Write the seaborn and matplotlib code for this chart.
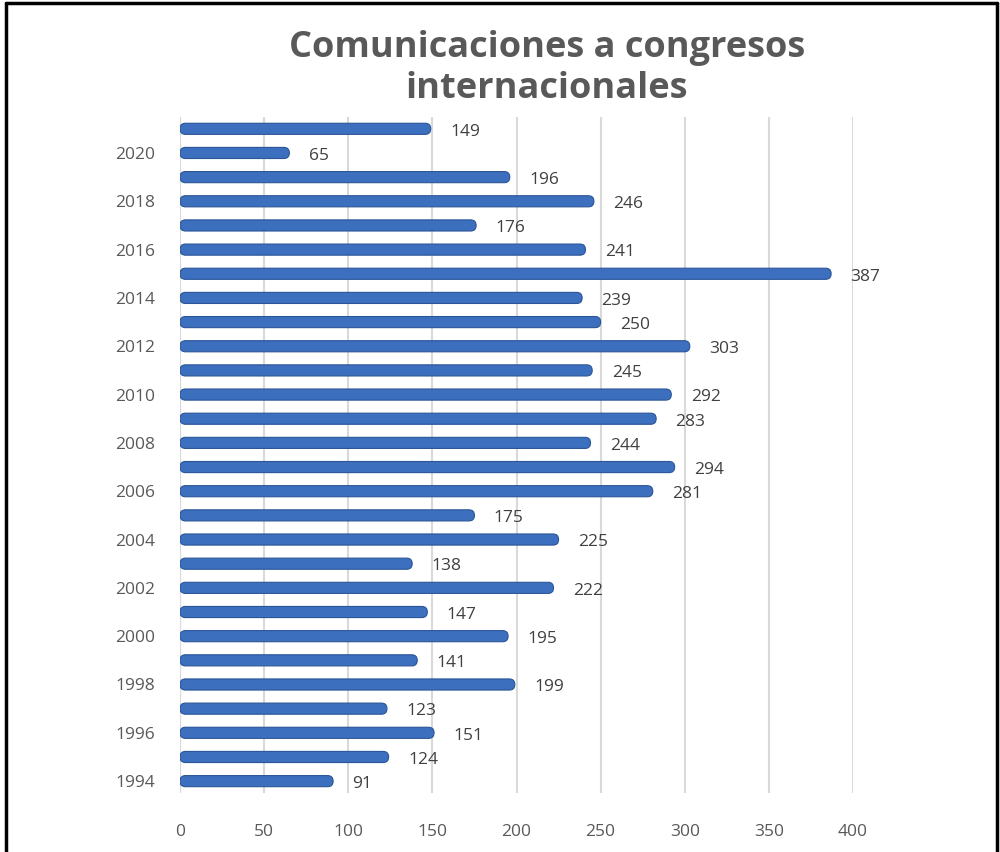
import matplotlib
matplotlib.use("Agg")
import matplotlib.pyplot as plt
from matplotlib.lines import Line2D
from matplotlib.patches import FancyBboxPatch
import seaborn as sns
import pandas as pd

years = list(range(1994, 2022))
values = [91, 124, 151, 123, 199, 141, 195, 147, 222, 138, 225, 175, 281, 294,
          244, 283, 292, 245, 303, 250, 239, 387, 241, 176, 246, 196, 65, 149]
title = "Comunicaciones a congresos\ninternacionales"
x_ticks = [0, 50, 100, 150, 200, 250, 300, 350, 400]

sns.set_theme(style="white")
plt.rcParams['font.family'] = ['Open Sans', 'DejaVu Sans']

df = pd.DataFrame({"year": [str(y) for y in years], "value": values})
order = [str(y) for y in reversed(years)]

fig = plt.figure(figsize=(10, 8.52), dpi=100)
ax = fig.add_axes([0.18, 0.069, 0.673, 0.794])

sns.barplot(data=df, y="year", x="value", order=order, orient="h",
            color="#3D6FBF", width=0.46, saturation=1, ax=ax,
            edgecolor="#2A5597", linewidth=0.8)

ax.set_xlim(0, 400)
ax.set_ylim(len(order) - 0.5, -0.5)

# round the bar ends (geometry taken from seaborn's bars)
px_per_x = 0.673 * 1000 / 400
px_per_y = 0.794 * 852 / len(order)
for p in list(ax.patches):
    x0, y0, w, h = p.get_x(), p.get_y(), p.get_width(), p.get_height()
    fb = FancyBboxPatch((x0, y0), w, h,
                        boxstyle="round,pad=0,rounding_size=%f" % (5.5 / px_per_x),
                        mutation_aspect=px_per_x / px_per_y,
                        facecolor="#3D6FBF", edgecolor="#2A5597", linewidth=0.8,
                        zorder=2)
    ax.add_patch(fb)
    p.set_visible(False)

ax.set_xticks(x_ticks)
ax.set_xticklabels([str(t) for t in x_ticks], fontsize=12.5, color="#595959")
ax.tick_params(axis="x", pad=22, length=0)
ax.set_yticks(range(len(order)))
ax.set_yticklabels([y if int(y) % 2 == 0 else "" for y in order],
                   fontsize=12.5, color="#595959")
ax.tick_params(axis="y", pad=18, length=0)
ax.set_xlabel("")
ax.set_ylabel("")
ax.grid(axis="x", color="#D9D9D9", linewidth=1.5)
ax.set_axisbelow(True)
for s in ax.spines.values():
    s.set_visible(False)
ax.axvline(0, color="#D9D9D9", linewidth=1.5, zorder=0)

for container in ax.containers:
    anns = ax.bar_label(container, labels=["%d" % v for v in container.datavalues],
                        padding=14, fontsize=12.5, color="#404040", clip_on=False)
    for a in anns:
        a.xyann = (14, -2)

fig.text(0.547, 0.965, title, ha="center", va="top", fontsize=26,
         fontweight="bold", color="#595959", linespacing=1.2)

# figure border (left, top, right)
fig.add_artist(Line2D([0.006, 0.006], [0, 0.997], color="black", linewidth=2.5,
                      transform=fig.transFigure))
fig.add_artist(Line2D([0.006, 0.997], [0.997, 0.997], color="black", linewidth=2.5,
                      transform=fig.transFigure))
fig.add_artist(Line2D([0.997, 0.997], [0, 0.997], color="black", linewidth=2.5,
                      transform=fig.transFigure))

fig.savefig("out.png", dpi=100)
